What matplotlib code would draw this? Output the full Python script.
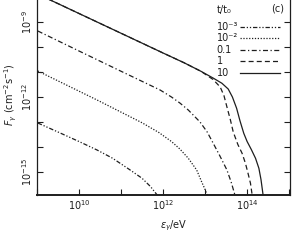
import matplotlib
matplotlib.use("Agg")
import matplotlib.pyplot as plt
from matplotlib.ticker import FixedLocator, FixedFormatter
import numpy as np

# Data, stored as log10 values
# t/t0 = 10 (solid)
logE_10 = [9.0, 10.0, 11.0, 12.0, 12.5, 12.9, 13.2, 13.4, 13.55, 13.65, 13.75, 13.83,
           13.92, 14.0, 14.1, 14.2, 14.28, 14.33, 14.38]
logF_10 = [-7.87, -8.66, -9.45, -10.24, -10.63, -10.97, -11.25, -11.45, -11.68, -12.0,
           -12.45, -12.95, -13.45, -13.78, -14.1, -14.45, -14.85, -15.3, -15.92]
# t/t0 = 1 (dashed)
logE_1 = [9.0, 10.0, 11.0, 12.0, 12.5, 12.9, 13.19, 13.36, 13.45, 13.52, 13.6, 13.67,
          13.78, 13.88, 13.96, 14.02, 14.08, 14.12]
logF_1 = [-7.87, -8.66, -9.45, -10.24, -10.63, -10.97, -11.3, -11.6, -11.95, -12.4,
          -12.9, -13.4, -13.9, -14.25, -14.65, -15.04, -15.45, -15.92]
# t/t0 = 0.1 (dash-dot)
logE_01 = [9.02, 10.0, 11.0, 11.93, 12.2, 12.4, 12.6, 12.88, 13.05, 13.19, 13.35,
           13.52, 13.62, 13.71]
logF_01 = [-9.36, -10.16, -10.97, -11.72, -12.0, -12.24, -12.52, -13.0, -13.4, -13.84,
           -14.35, -14.92, -15.4, -15.92]
# t/t0 = 1e-2 (dotted)
logE_001 = [9.02, 10.43, 11.5, 11.9, 12.2, 12.4, 12.6, 12.8, 12.92, 13.0, 13.05]
logF_001 = [-10.96, -12.12, -13.03, -13.42, -13.78, -14.08, -14.45, -14.92, -15.4,
            -15.7, -15.92]
# t/t0 = 1e-3 (dash-dot-dot)
logE_0001 = [9.02, 9.5, 10.0, 10.43, 10.8, 11.2, 11.5, 11.7, 11.86]
logF_0001 = [-13.04, -13.4, -13.78, -14.12, -14.45, -14.9, -15.25, -15.58, -15.92]

labels = ['10\u207b\u00b3', '10\u207b\u00b2', '0.1', '1', '10']
xticks = [9, 10, 11, 12, 13, 14, 15]
xticklabels = ['', r'$10^{10}$', '', r'$10^{12}$', '', r'$10^{14}$', '']
yticks = [-15, -14, -13, -12, -11, -10, -9, -8]
yticklabels = [r'$10^{-15}$', '', '', r'$10^{-12}$', '', '', r'$10^{-9}$', '']

ink = '#1e1e1e'
fig = plt.figure(figsize=(3.0, 2.45), dpi=100)
ax = fig.add_axes([0.1233, 0.204, 0.8433, 0.8164])

series = [
    (logE_0001, logF_0001, (0, (3.5, 1.5, 1, 1.5, 1, 1.5))),
    (logE_001, logF_001, (0, (1, 1.3))),
    (logE_01, logF_01, (0, (4, 2, 1, 2))),
    (logE_1, logF_1, (0, (4, 2.5))),
    (logE_10, logF_10, '-'),
]
for i, ((le, lf, ls), lab) in enumerate(zip(series, labels)):
    ax.plot(10 ** np.array(le), 10 ** np.array(lf), color=ink, lw=0.9, linestyle=ls)
    # hand-made legend: label on the left, line sample on the right
    yrow = 0.84 - 0.057 * i
    ax.text(0.711, yrow, lab, transform=ax.transAxes, fontsize=7,
            ha='left', va='center', color=ink)
    ax.plot([0.804, 0.962], [yrow, yrow], transform=ax.transAxes, color=ink,
            lw=0.9, linestyle=ls)
ax.text(0.711, 0.925, 't/t\u2080', transform=ax.transAxes, fontsize=7,
        ha='left', va='center', color=ink)
ax.text(0.953, 0.935, '(c)', transform=ax.transAxes, fontsize=7,
        ha='center', va='center', color=ink)

ax.set_xscale('log')
ax.set_yscale('log')
ax.set_xlim(1e9, 10 ** 15.02)
ax.set_ylim(10 ** -15.92, 10 ** -7.92)

ax.xaxis.set_major_locator(FixedLocator([10.0 ** v for v in xticks]))
ax.xaxis.set_major_formatter(FixedFormatter(xticklabels))
ax.xaxis.set_minor_locator(FixedLocator([]))
ax.yaxis.set_major_locator(FixedLocator([10.0 ** v for v in yticks]))
ax.yaxis.set_major_formatter(FixedFormatter(yticklabels))
ax.yaxis.set_minor_locator(FixedLocator([]))

ax.tick_params(which='both', direction='in', length=4, width=0.8,
               right=True, top=False, labelsize=7, pad=2, colors=ink)
ax.tick_params(axis='y', labelrotation=90)
for lab in ax.get_yticklabels():
    lab.set_va('center')
for s in ax.spines.values():
    s.set_linewidth(0.9)
    s.set_color(ink)
ax.spines['bottom'].set_linewidth(1.4)

ax.set_xlabel(r'$\epsilon_\gamma$/eV', fontsize=7, labelpad=2, color=ink)
ax.xaxis.set_label_coords(0.54, -0.12)
ax.set_ylabel(r'$F_\gamma$ (cm$^{-2}$s$^{-1}$)', fontsize=7, labelpad=1, color=ink)

fig.savefig('out.png', dpi=100)
